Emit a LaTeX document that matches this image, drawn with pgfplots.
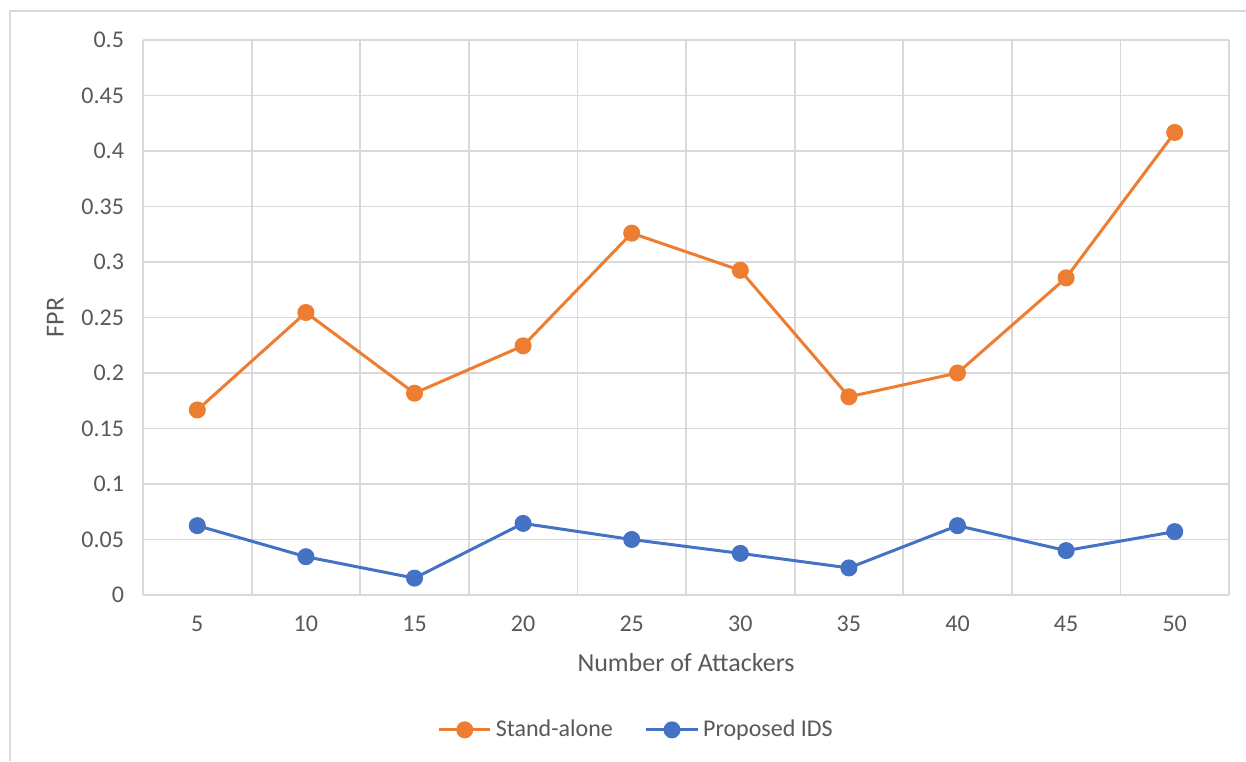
\documentclass[border=0pt]{standalone}
\usepackage{pgfplots}
\pgfplotsset{compat=1.18}
\usepackage{fontspec}
\setmainfont{Carlito}
\definecolor{orng}{HTML}{ED7D31}
\definecolor{blu}{HTML}{4472C4}
\definecolor{gridc}{HTML}{D9D9D9}
\definecolor{txt}{HTML}{595959}
\pgfplotstableread{
x sa ids
0 0.1667 0.0625
1 0.2545 0.0345
2 0.1818 0.0152
3 0.2245 0.0645
4 0.3260 0.0500
5 0.2925 0.0375
6 0.1786 0.0244
7 0.2000 0.0625
8 0.2857 0.0400
9 0.4167 0.0571
}\data
\begin{document}
\begin{tikzpicture}
\path[use as bounding box] (0,0) rectangle (623pt,380.5pt);
\draw[gridc, line width=1pt] (5pt,0) -- (5pt,375pt) -- (623pt,375pt);
\begin{axis}[
  at={(71.5pt,83pt)}, anchor=south west,
  scale only axis, width=543pt, height=277.5pt,
  xmin=-0.5, xmax=9.5, ymin=0, ymax=0.5,
  xtick={0,...,9}, xticklabels={5,10,15,20,25,30,35,40,45,50},
  minor xtick={-0.5,0.5,...,9.5},
  ytick={0,0.05,...,0.5},
  xmajorgrids=false, xminorgrids=true, ymajorgrids=true,
  grid style={gridc, line width=0.9pt},
  minor grid style={gridc, line width=0.9pt},
  axis line style={draw=none},
  major tick length=0pt, minor tick length=0pt,
  tick style={draw=none},
  /pgf/number format/assume math mode=true,
  /pgf/number format/fixed, /pgf/number format/precision=2,
  ticklabel style={font=\fontsize{12}{14}\selectfont, text=txt},
  yticklabel style={xshift=-6pt},
  xticklabel style={yshift=-7pt},
  xlabel={Number of Attackers}, ylabel={FPR},
  label style={font=\fontsize{13}{15}\selectfont, text=txt},
  xlabel style={yshift=-4pt},
  ylabel style={yshift=2pt},
  legend columns=2,
  legend style={at={(0.455,-0.243)}, anchor=center, draw=none,
    font=\fontsize{12}{14}\selectfont, text=txt,
    /tikz/every even column/.append style={column sep=14pt}},
  legend image code/.code={\draw[mark repeat=2,mark phase=2] plot coordinates {(0cm,0cm) (0.45cm,0cm) (0.9cm,0cm)};},
  legend cell align=left,
]
\draw[gridc, line width=1.2pt] (axis cs:-0.5,0) -- (axis cs:9.5,0);
\addplot[orng, line width=1.5pt, mark=*, mark size=3.5pt, mark options={fill=orng}] table[x=x,y=sa] {\data};
\addlegendentry{Stand-alone}
\addplot[blu, line width=1.5pt, mark=*, mark size=3.5pt, mark options={fill=blu}] table[x=x,y=ids] {\data};
\addlegendentry{Proposed IDS}
\end{axis}
\end{tikzpicture}
\end{document}
